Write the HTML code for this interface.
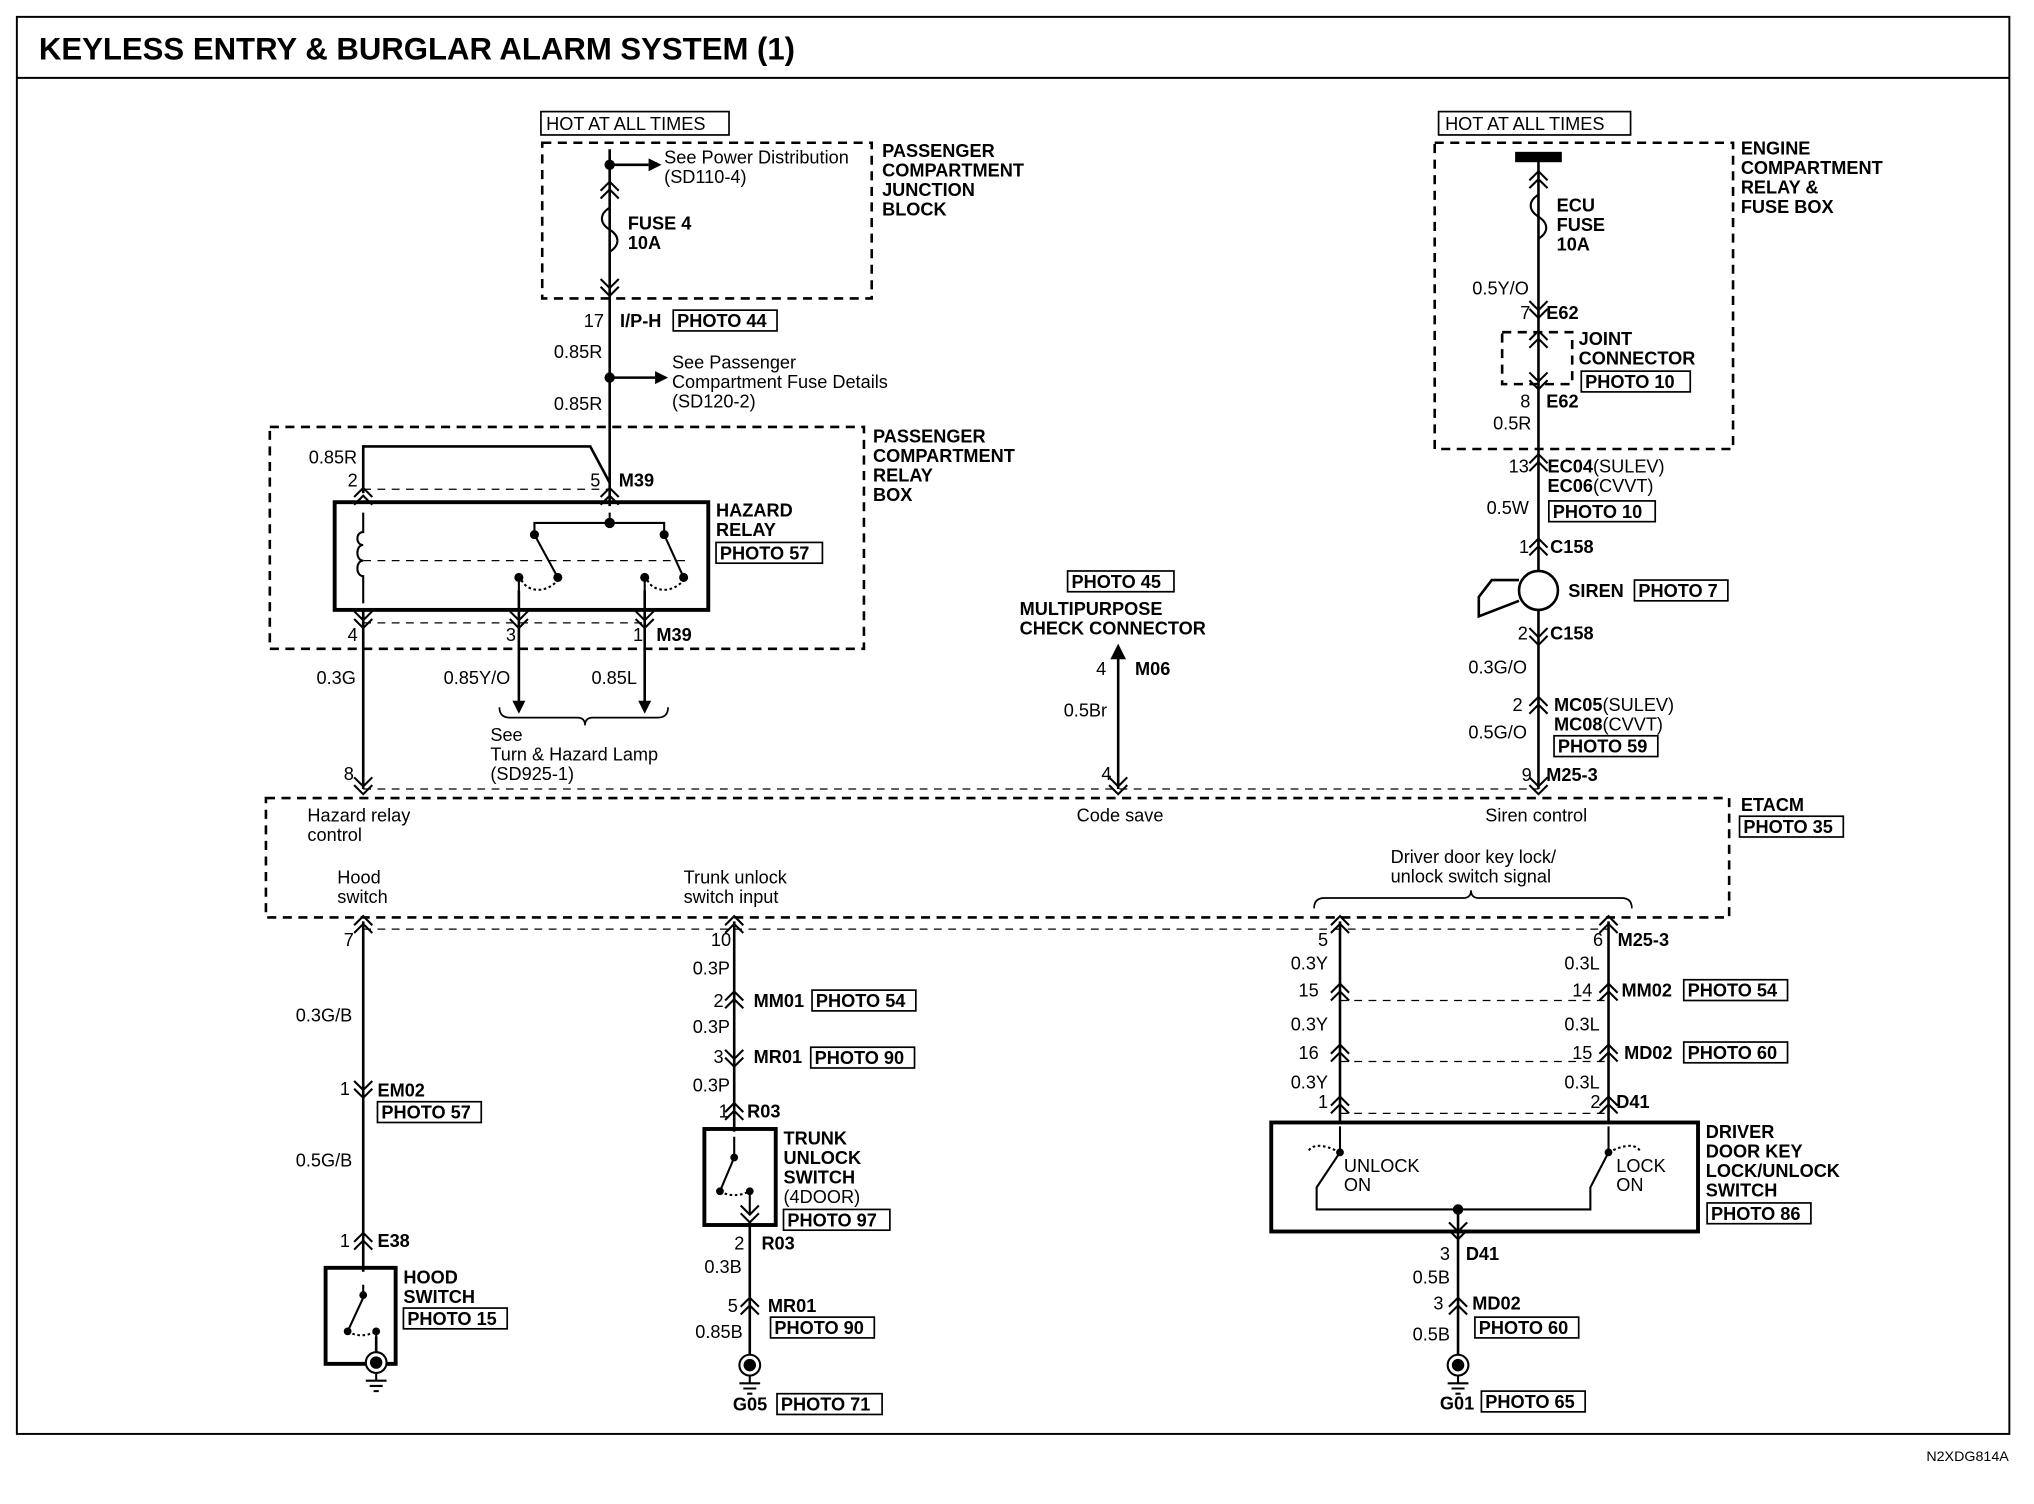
<!DOCTYPE html>
<html><head><meta charset="utf-8"><style>
html,body{margin:0;padding:0;background:#fff}
svg{display:block}
text{font-family:"Liberation Sans",Arial,sans-serif;font-size:14px;fill:#000}
.b{font-weight:bold}
</style></head><body>
<svg width="2034" height="1504" viewBox="0 0 1568 1159" preserveAspectRatio="none" xmlns="http://www.w3.org/2000/svg">
<defs>
<g id="cu" fill="none" stroke="#000" stroke-width="1.6"><path d="M-7,7 L0,0 L7,7"/><path d="M-7,13 L0,6 L7,13"/></g>
<g id="cd" fill="none" stroke="#000" stroke-width="1.6"><path d="M-7,-7 L0,0 L7,-7"/><path d="M-7,-13 L0,-6 L7,-13"/></g>
<g id="gnd" fill="none" stroke="#000" stroke-width="1.6"><circle cx="0" cy="0" r="8" fill="#fff"/><circle cx="0" cy="0" r="4" fill="#000"/><path d="M0,8 V14 M-8,14 H8 M-5,18 H5 M-2,22 H2"/></g>
</defs>
<rect width="1568" height="1159" fill="#fff"/>
<g fill="none" stroke="#000" stroke-width="1.5">
<rect x="13" y="13" width="1536" height="1092"/>
<line x1="13" y1="60" x2="1549" y2="60"/>
</g>
<text x="30" y="46" class="b" style="font-size:24px">KEYLESS ENTRY &amp; BURGLAR ALARM SYSTEM (1)</text>
<text x="1485" y="1126" style="font-size:11px">N2XDG814A</text>

<g fill="none" stroke="#000" stroke-width="2" stroke-dasharray="7,5">
<rect x="418" y="110" width="254" height="120"/>
<rect x="208" y="329" width="458" height="171"/>
<rect x="1106" y="110" width="230" height="236"/>
<rect x="1158" y="256" width="54" height="40"/>
<rect x="205" y="615" width="1128" height="92"/>
</g>
<g fill="none" stroke="#000" stroke-width="1" stroke-dasharray="6,5">
<line x1="280" y1="377" x2="470" y2="377"/>
<line x1="280" y1="480" x2="497" y2="480"/>
<line x1="280" y1="432" x2="530" y2="432"/>
<line x1="280" y1="608" x2="1186" y2="608"/>
<line x1="280" y1="716" x2="1240" y2="716"/>
<line x1="1033" y1="771" x2="1240" y2="771"/>
<line x1="1033" y1="818" x2="1240" y2="818"/>
<line x1="1033" y1="858" x2="1240" y2="858"/>
</g>

<g fill="none" stroke="#000" stroke-width="2">
<line x1="470" y1="115" x2="470" y2="390"/>
<line x1="470" y1="127" x2="500" y2="127"/>
<line x1="470" y1="291" x2="505" y2="291"/>
<path d="M280,380 V344 H455 L470,372"/>
<line x1="280" y1="470" x2="280" y2="608"/>
<line x1="400" y1="455" x2="400" y2="542"/>
<line x1="497" y1="455" x2="497" y2="542"/>
<line x1="862" y1="502" x2="862" y2="608"/>
<line x1="1186" y1="124" x2="1186" y2="440"/>
<line x1="1186" y1="470" x2="1186" y2="608"/>
<line x1="280" y1="710" x2="280" y2="980"/>
<line x1="566" y1="710" x2="566" y2="872"/>
<line x1="578" y1="942" x2="578" y2="1045"/>
<line x1="1033" y1="710" x2="1033" y2="866"/>
<line x1="1240" y1="710" x2="1240" y2="866"/>
<line x1="1124" y1="932" x2="1124" y2="1045"/>
<line x1="290" y1="1030" x2="290" y2="1045"/>
</g>
<g fill="#000">
<circle cx="470" cy="127" r="4"/><circle cx="470" cy="291" r="4"/>
<path d="M500,122 L510,127 L500,132Z"/><path d="M505,286 L515,291 L505,296Z"/>
<path d="M395,540 L400,550 L405,540Z"/><path d="M492,540 L497,550 L502,540Z"/>
<path d="M856,508 L862,496 L868,508Z"/>
<rect x="1168" y="117" width="36" height="8"/>
</g>
<g fill="none" stroke="#000" stroke-width="1.6">
<path d="M470,160 c-8,5 -8,12 0,17 c8,5 8,12 0,17"/>
<path d="M1186,150 c-8,5 -8,12 0,17 c8,5 8,12 0,17"/>
</g>

<rect x="258" y="387" width="288" height="83" fill="none" stroke="#000" stroke-width="3"/>
<g fill="none" stroke="#000" stroke-width="1.6">
<path d="M280,395 V410 c-6,0 -6,10 0,10 c-6,0 -6,12 0,12 c-6,0 -6,12 0,12 V465"/>
<path d="M470,395 V403 M412,412 V403 H512 V412"/>
<path d="M412,412 L430,445 M512,412 L527,445"/>
<path d="M400,445 V465 M497,445 V465"/>
<path d="M402,447 c5,10 20,10 28,0 M499,447 c5,10 20,10 28,0" stroke-dasharray="2,2"/>
</g>
<g fill="#000"><circle cx="470" cy="403" r="4"/><circle cx="412" cy="412" r="3.5"/><circle cx="512" cy="412" r="3.5"/><circle cx="400" cy="445" r="3.5"/><circle cx="430" cy="445" r="3.5"/><circle cx="497" cy="445" r="3.5"/><circle cx="527" cy="445" r="3.5"/></g>

<use href="#cu" x="470" y="140"/><use href="#cd" x="470" y="228"/>
<use href="#cu" x="280" y="376"/><use href="#cu" x="470" y="376"/>
<use href="#cd" x="280" y="484"/><use href="#cd" x="400" y="484"/><use href="#cd" x="497" y="484"/>
<use href="#cd" x="280" y="612"/><use href="#cd" x="862" y="612"/><use href="#cd" x="1186" y="612"/>
<use href="#cu" x="1186" y="132"/>
<use href="#cd" x="1186" y="245"/><use href="#cu" x="1186" y="255"/><use href="#cd" x="1186" y="300"/>
<use href="#cu" x="1186" y="350"/><use href="#cu" x="1186" y="415"/><use href="#cd" x="1186" y="497"/>
<use href="#cu" x="1186" y="537"/>
<use href="#cu" x="280" y="706"/><use href="#cu" x="566" y="706"/><use href="#cu" x="1033" y="706"/><use href="#cu" x="1240" y="706"/>
<use href="#cd" x="280" y="846"/><use href="#cu" x="280" y="950"/>
<use href="#cu" x="566" y="764"/><use href="#cd" x="566" y="822"/><use href="#cu" x="566" y="850"/>
<use href="#cd" x="578" y="942"/><use href="#cu" x="578" y="1000"/>
<use href="#cu" x="1033" y="758"/><use href="#cu" x="1240" y="758"/>
<use href="#cu" x="1033" y="805"/><use href="#cu" x="1240" y="805"/>
<use href="#cu" x="1033" y="845"/><use href="#cu" x="1240" y="845"/>
<use href="#cd" x="1124" y="955"/><use href="#cu" x="1124" y="1000"/>

<circle cx="1186" cy="455" r="15" fill="#fff" stroke="#000" stroke-width="2"/>
<path d="M1171,447 L1150,447 L1140,460 L1140,475 L1171,463" fill="none" stroke="#000" stroke-width="2"/>

<path d="M385,545 q0,8 8,8 H445 q6,0 6,6 q0,-6 6,-6 H507 q8,0 8,-8" fill="none" stroke="#000" stroke-width="1.3"/>
<path d="M1013,700 q0,-8 8,-8 H1128 q6,0 6,-6 q0,6 6,6 H1250 q8,0 8,8" fill="none" stroke="#000" stroke-width="1.3"/>

<rect x="251" y="977" width="54" height="74" fill="none" stroke="#000" stroke-width="3"/>
<g fill="none" stroke="#000" stroke-width="1.6"><path d="M280,990 V998 M280,1000 L268,1026 M290,1026 V1040"/><path d="M268,1026 q10,6 22,0" stroke-dasharray="2,2"/></g>
<g fill="#000"><circle cx="280" cy="998" r="3"/><circle cx="268" cy="1026" r="3"/><circle cx="290" cy="1026" r="3"/></g>
<use href="#gnd" x="290" y="1050"/>
<rect x="543" y="870" width="55" height="74" fill="none" stroke="#000" stroke-width="3"/>
<g fill="none" stroke="#000" stroke-width="1.6"><path d="M566,876 V892 M566,892 L555,918 M578,918 V935"/><path d="M555,918 q10,6 23,0" stroke-dasharray="2,2"/></g>
<g fill="#000"><circle cx="566" cy="892" r="3"/><circle cx="555" cy="918" r="3"/><circle cx="578" cy="918" r="3"/></g>
<use href="#gnd" x="578" y="1052"/>
<rect x="980" y="865" width="329" height="84" fill="none" stroke="#000" stroke-width="3"/>
<g fill="none" stroke="#000" stroke-width="1.6">
<path d="M1033,868 V888 L1015,915 V932 H1226 V915 L1240,888 V868"/>
<path d="M1033,888 q-20,-10 -25,0 M1240,888 q20,-10 25,0" stroke-dasharray="2,2"/>
</g>
<g fill="#000"><circle cx="1033" cy="888" r="3"/><circle cx="1240" cy="888" r="3"/><circle cx="1124" cy="932" r="4"/></g>
<use href="#gnd" x="1124" y="1052"/>

<g fill="none" stroke="#000" stroke-width="1.3">
<rect x="417" y="86" width="145" height="18"/><rect x="1109" y="86" width="148" height="18"/>
<rect x="519" y="239" width="80" height="16"/><rect x="552" y="418" width="82" height="16"/>
<rect x="823" y="440" width="82" height="16"/><rect x="1219" y="286" width="84" height="16"/>
<rect x="1194" y="386" width="82" height="16"/><rect x="1260" y="447" width="72" height="16"/>
<rect x="1198" y="567" width="80" height="16"/><rect x="1341" y="629" width="80" height="16"/>
<rect x="291" y="849" width="80" height="16"/><rect x="626" y="763" width="80" height="16"/>
<rect x="625" y="807" width="80" height="16"/><rect x="604" y="932" width="82" height="16"/>
<rect x="594" y="1015" width="80" height="16"/><rect x="599" y="1074" width="81" height="16"/>
<rect x="311" y="1008" width="80" height="16"/><rect x="1298" y="755" width="80" height="16"/>
<rect x="1298" y="803" width="80" height="16"/><rect x="1316" y="927" width="80" height="16"/>
<rect x="1137" y="1015" width="80" height="16"/><rect x="1142" y="1072" width="80" height="16"/>
</g>

<text x="421" y="100">HOT AT ALL TIMES</text>
<text x="1114" y="100">HOT AT ALL TIMES</text>
<text x="512" y="126">See Power Distribution</text><text x="512" y="141">(SD110-4)</text>
<text x="484" y="177" class="b">FUSE 4</text><text x="484" y="192" class="b">10A</text>
<g class="b"><text x="680" y="121">PASSENGER</text><text x="680" y="136">COMPARTMENT</text><text x="680" y="151">JUNCTION</text><text x="680" y="166">BLOCK</text></g>
<text x="450" y="252">17</text><text x="478" y="252" class="b">I/P-H</text><text x="522" y="252" class="b">PHOTO 44</text>
<text x="427" y="276">0.85R</text>
<text x="518" y="284">See Passenger</text><text x="518" y="299">Compartment Fuse Details</text><text x="518" y="314">(SD120-2)</text>
<text x="427" y="316">0.85R</text>
<g class="b"><text x="673" y="341">PASSENGER</text><text x="673" y="356">COMPARTMENT</text><text x="673" y="371">RELAY</text><text x="673" y="386">BOX</text></g>
<text x="238" y="357">0.85R</text>
<text x="268" y="375">2</text><text x="455" y="375">5</text><text x="477" y="375" class="b">M39</text>
<g class="b"><text x="552" y="398">HAZARD</text><text x="552" y="413">RELAY</text><text x="555" y="431">PHOTO 57</text></g>
<text x="268" y="494">4</text><text x="390" y="494">3</text><text x="488" y="494">1</text><text x="506" y="494" class="b">M39</text>
<text x="244" y="527">0.3G</text><text x="342" y="527">0.85Y/O</text><text x="456" y="527">0.85L</text>
<text x="378" y="571">See</text><text x="378" y="586">Turn &amp; Hazard Lamp</text><text x="378" y="601">(SD925-1)</text>
<text x="265" y="601">8</text>

<text x="826" y="453" class="b">PHOTO 45</text>
<text x="786" y="474" class="b">MULTIPURPOSE</text><text x="786" y="489" class="b">CHECK CONNECTOR</text>
<text x="845" y="520">4</text><text x="875" y="520" class="b">M06</text>
<text x="820" y="552">0.5Br</text><text x="849" y="601">4</text>

<g class="b"><text x="1342" y="119">ENGINE</text><text x="1342" y="134">COMPARTMENT</text><text x="1342" y="149">RELAY &amp;</text><text x="1342" y="164">FUSE BOX</text></g>
<g class="b"><text x="1200" y="163">ECU</text><text x="1200" y="178">FUSE</text><text x="1200" y="193">10A</text></g>
<text x="1135" y="227">0.5Y/O</text>
<text x="1172" y="246">7</text><text x="1192" y="246" class="b">E62</text>
<g class="b"><text x="1217" y="266">JOINT</text><text x="1217" y="281">CONNECTOR</text><text x="1222" y="299">PHOTO 10</text></g>
<text x="1172" y="314">8</text><text x="1192" y="314" class="b">E62</text><text x="1151" y="331">0.5R</text>
<text x="1163" y="364">13</text><text x="1193" y="364" class="b">EC04<tspan font-weight="normal">(SULEV)</tspan></text>
<text x="1193" y="379" class="b">EC06<tspan font-weight="normal">(CVVT)</tspan></text>
<text x="1146" y="396">0.5W</text><text x="1197" y="399" class="b">PHOTO 10</text>
<text x="1171" y="426">1</text><text x="1195" y="426" class="b">C158</text>
<text x="1209" y="460" class="b">SIREN</text><text x="1263" y="460" class="b">PHOTO 7</text>
<text x="1170" y="493">2</text><text x="1195" y="493" class="b">C158</text>
<text x="1132" y="519">0.3G/O</text>
<text x="1166" y="548">2</text><text x="1198" y="548" class="b">MC05<tspan font-weight="normal">(SULEV)</tspan></text>
<text x="1198" y="563" class="b">MC08<tspan font-weight="normal">(CVVT)</tspan></text>
<text x="1132" y="569">0.5G/O</text><text x="1201" y="580" class="b">PHOTO 59</text>
<text x="1173" y="602">9</text><text x="1192" y="602" class="b">M25-3</text>

<text x="1342" y="625" class="b">ETACM</text><text x="1344" y="642" class="b">PHOTO 35</text>
<text x="237" y="633">Hazard relay</text><text x="237" y="648">control</text>
<text x="830" y="633">Code save</text><text x="1145" y="633">Siren control</text>
<text x="260" y="681">Hood</text><text x="260" y="696">switch</text>
<text x="527" y="681">Trunk unlock</text><text x="527" y="696">switch input</text>
<text x="1072" y="665">Driver door key lock/</text><text x="1072" y="680">unlock switch signal</text>

<text x="265" y="729">7</text><text x="228" y="787">0.3G/B</text>
<text x="262" y="844">1</text><text x="291" y="845" class="b">EM02</text><text x="294" y="862" class="b">PHOTO 57</text>
<text x="228" y="899">0.5G/B</text>
<text x="262" y="961">1</text><text x="291" y="961" class="b">E38</text>
<g class="b"><text x="311" y="989">HOOD</text><text x="311" y="1004">SWITCH</text><text x="314" y="1021">PHOTO 15</text></g>

<text x="548" y="729">10</text><text x="534" y="751">0.3P</text>
<text x="550" y="776">2</text><text x="581" y="776" class="b">MM01</text><text x="629" y="776" class="b">PHOTO 54</text>
<text x="534" y="796">0.3P</text>
<text x="550" y="819">3</text><text x="581" y="819" class="b">MR01</text><text x="628" y="820" class="b">PHOTO 90</text>
<text x="534" y="841">0.3P</text>
<text x="554" y="861">1</text><text x="576" y="861" class="b">R03</text>
<g class="b"><text x="604" y="882">TRUNK</text><text x="604" y="897">UNLOCK</text><text x="604" y="912">SWITCH</text></g>
<text x="604" y="927">(4DOOR)</text><text x="607" y="945" class="b">PHOTO 97</text>
<text x="566" y="963">2</text><text x="587" y="963" class="b">R03</text>
<text x="543" y="981">0.3B</text>
<text x="561" y="1011">5</text><text x="592" y="1011" class="b">MR01</text><text x="597" y="1028" class="b">PHOTO 90</text>
<text x="536" y="1031">0.85B</text>
<text x="565" y="1087" class="b">G05</text><text x="602" y="1087" class="b">PHOTO 71</text>

<text x="1016" y="729">5</text><text x="1228" y="729">6</text><text x="1247" y="729" class="b">M25-3</text>
<text x="995" y="747">0.3Y</text><text x="1206" y="747">0.3L</text>
<text x="1001" y="768">15</text><text x="1212" y="768">14</text><text x="1250" y="768" class="b">MM02</text><text x="1301" y="768" class="b">PHOTO 54</text>
<text x="995" y="794">0.3Y</text><text x="1206" y="794">0.3L</text>
<text x="1001" y="816">16</text><text x="1212" y="816">15</text><text x="1252" y="816" class="b">MD02</text><text x="1301" y="816" class="b">PHOTO 60</text>
<text x="995" y="839">0.3Y</text><text x="1206" y="839">0.3L</text>
<text x="1016" y="854">1</text><text x="1226" y="854">2</text><text x="1246" y="854" class="b">D41</text>
<text x="1036" y="903">UNLOCK</text><text x="1036" y="918">ON</text>
<text x="1246" y="903">LOCK</text><text x="1246" y="918">ON</text>
<g class="b"><text x="1315" y="877">DRIVER</text><text x="1315" y="892">DOOR KEY</text><text x="1315" y="907">LOCK/UNLOCK</text><text x="1315" y="922">SWITCH</text><text x="1319" y="940">PHOTO 86</text></g>
<text x="1110" y="971">3</text><text x="1130" y="971" class="b">D41</text>
<text x="1089" y="989">0.5B</text>
<text x="1105" y="1009">3</text><text x="1135" y="1009" class="b">MD02</text><text x="1140" y="1028" class="b">PHOTO 60</text>
<text x="1089" y="1033">0.5B</text>
<text x="1110" y="1086" class="b">G01</text><text x="1145" y="1085" class="b">PHOTO 65</text>
</svg>
</body></html>
